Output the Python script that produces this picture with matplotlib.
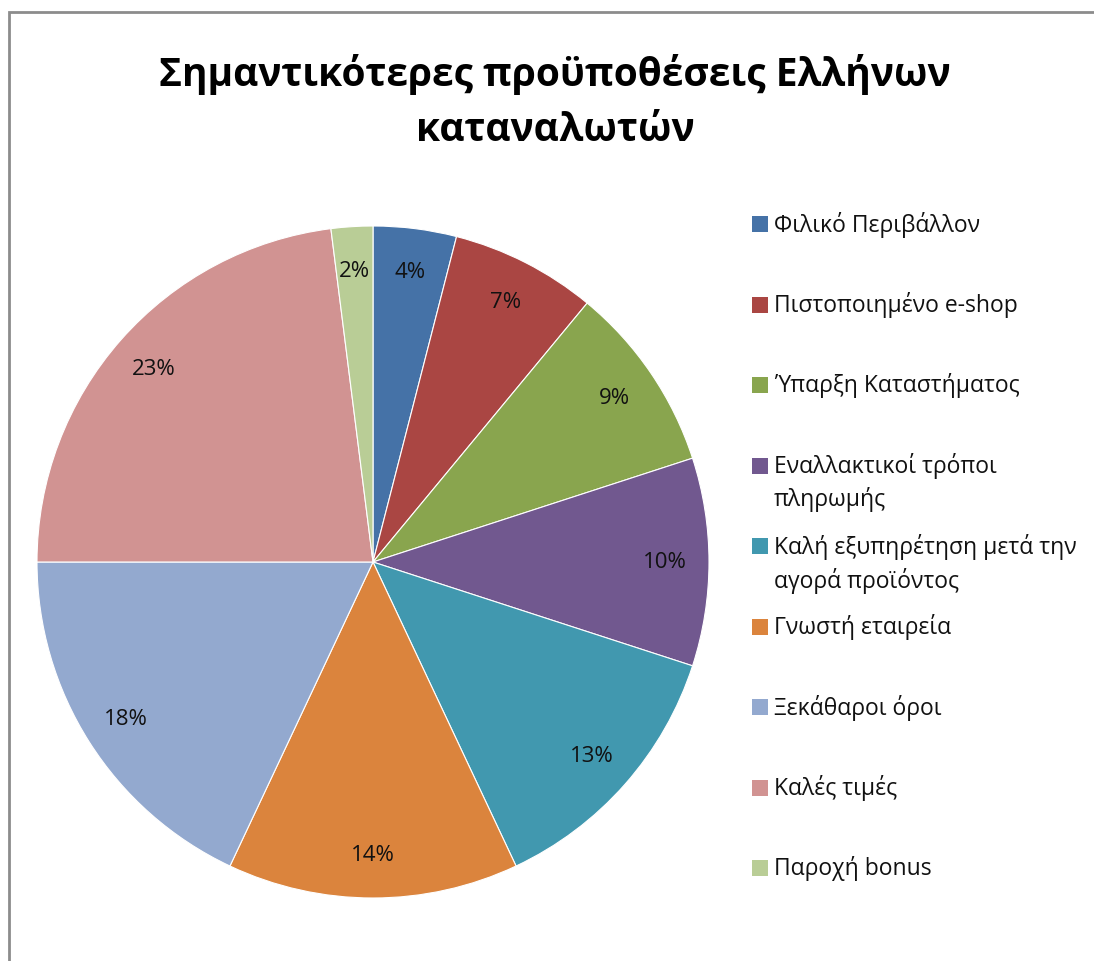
import numpy as np
import matplotlib.pyplot as plt
from matplotlib.patches import Rectangle

plt.rcParams['font.family'] = ['Open Sans', 'DejaVu Sans']

labels = [
    'Φιλικό Περιβάλλον',
    'Πιστοποιημένο e-shop',
    'Ύπαρξη Καταστήματος',
    'Εναλλακτικοί τρόποι\nπληρωμής',
    'Καλή εξυπηρέτηση μετά την\nαγορά προϊόντος',
    'Γνωστή εταιρεία',
    'Ξεκάθαροι όροι',
    'Καλές τιμές',
    'Παροχή bonus',
]
shares = [4, 7, 9, 10, 13, 14, 18, 23, 2]
colors = ['#4572A7', '#AA4643', '#89A54E', '#71588F', '#4198AF',
          '#DB843D', '#93A9CF', '#D19392', '#B9CD96']

W, H = 1094, 962
fig = plt.figure(figsize=(W / 100, H / 100), dpi=100)

# chart frame (left and top edges visible)
fig.add_artist(Rectangle((9 / W, -0.1), 1.2, 1 - 13 / H + 0.1,
                         transform=fig.transFigure, fill=False,
                         edgecolor='#8c8c8c', linewidth=2))

# pie: centre (373, 563) px, radius 336 px
cx, cy, r = 373, 563, 336
ax = fig.add_axes([(cx - r) / W, (H - cy - r) / H, 2 * r / W, 2 * r / H])
wedges, texts = ax.pie(
    shares, colors=colors, startangle=90, counterclock=False, radius=1,
    wedgeprops=dict(edgecolor='white', linewidth=0.8),
)
for w, v in zip(wedges, shares):
    ang = np.deg2rad((w.theta1 + w.theta2) / 2)
    ax.text(0.87 * np.cos(ang), 0.87 * np.sin(ang), f'{v}%',
            ha='center', va='center', fontsize=16, color='#111111')
ax.set_xlim(-1, 1)
ax.set_ylim(-1, 1)
ax.set_aspect('auto')
ax.axis('off')

fig.text(555 / W, 1 - 102 / H, 'Σημαντικότερες προϋποθέσεις Ελλήνων\nκαταναλωτών',
         ha='center', va='center', fontsize=28, fontweight='bold',
         linespacing=1.55)

# legend drawn as a column of swatches and labels
y0, step = 225, 80.5
for i, (lab, col) in enumerate(zip(labels, colors)):
    y = y0 + i * step
    fig.add_artist(Rectangle((752 / W, 1 - (y + 8) / H), 16 / W, 16 / H,
                             transform=fig.transFigure, facecolor=col,
                             edgecolor='none'))
    fig.text(774 / W, 1 - (y - 13) / H, lab, ha='left', va='top',
             fontsize=16.5, linespacing=1.42, color='#111111')

fig.savefig('out.png', dpi=100)
